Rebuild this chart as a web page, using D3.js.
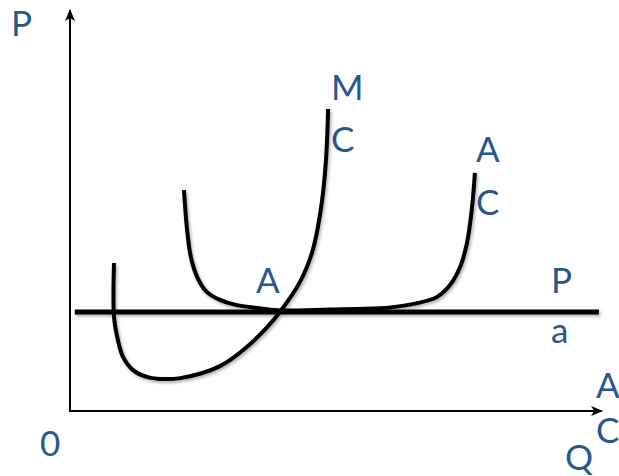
<!DOCTYPE html>
<html>
<head>
<meta charset="utf-8">
<script src="https://cdn.jsdelivr.net/npm/d3@7"></script>
<style>
  html,body{margin:0;padding:0;background:#fff;}
  svg{display:block;}
  .lbl{font-family:Lato,"Open Sans",sans-serif;font-size:35px;fill:#2a5590;}
</style>
</head>
<body>
<svg id="chart" width="619" height="476"></svg>
<script>
// marginal cost curve (Q, P)
var mcQ=[8.3,8.3,8.9,10.0,11.9,14.5,17.0,20.8,28.3,33.4,37.2,39.6,43.4,45.8,47.5,48.3,48.7];
var mcP=[36.9,23.4,18.5,13.5,10.2,8.5,8.0,8.2,11.2,16.0,20.9,24.7,32.2,40.1,51.9,62.6,75.3];
// average cost curve
var acQ=[21.5,22.1,22.8,24.0,25.8,28.3,31.5,35.3,39.1,49.1,58.5,60.9,65.5,69.2,71.7,73.6,74.9,75.8,76.4];
var acP=[55.1,45.1,38.4,33.4,29.7,27.7,26.4,25.7,25.1,25.3,25.6,25.9,26.9,28.4,31.4,35.9,41.9,50.1,59.4];
// price line P = AR
var priceQ=[0.9,99.8];
var priceP=[24.7,24.7];

var svg=d3.select("#chart");
var x=d3.scaleLinear().domain([0,100]).range([70,600]);
var y=d3.scaleLinear().domain([0,100]).range([411,10]);

var defs=svg.append("defs");
defs.append("filter").attr("id","shadow")
	.attr("x","-10%").attr("y","-10%").attr("width","130%").attr("height","130%")
	.append("feDropShadow")
	.attr("dx",1.5).attr("dy",2).attr("stdDeviation",1.5)
	.attr("flood-color","#000").attr("flood-opacity",0.3);

function arrow(id,orient){
	defs.append("marker").attr("id",id)
		.attr("viewBox","0 0 12 10").attr("refX",11).attr("refY",5)
		.attr("markerWidth",12).attr("markerHeight",10)
		.attr("markerUnits","userSpaceOnUse")
		.attr("orient",orient)
		.append("path").attr("d","M0,0 L12,5 L0,10 L3,5 Z").attr("fill","#000");
}
arrow("arr","auto");

// axes
svg.append("line")
	.attr("x1",x(0)).attr("y1",y(0)).attr("x2",x(0)).attr("y2",y(100))
	.attr("stroke","#000").attr("stroke-width",2).attr("marker-end","url(#arr)");
svg.append("line")
	.attr("x1",x(0)-1).attr("y1",y(0)).attr("x2",x(100.4)).attr("y2",y(0))
	.attr("stroke","#000").attr("stroke-width",2).attr("marker-end","url(#arr)");

var line=d3.line()
	.x(function(d){return x(d[0]);})
	.y(function(d){return y(d[1]);})
	.curve(d3.curveCatmullRom.alpha(0.5));

var curves=svg.append("g").attr("filter","url(#shadow)");
curves.append("path")
	.datum(d3.zip(priceQ,priceP))
	.attr("d",d3.line().x(function(d){return x(d[0]);}).y(function(d){return y(d[1]);}))
	.attr("fill","none").attr("stroke","#000").attr("stroke-width",5);
curves.append("path")
	.datum(d3.zip(mcQ,mcP))
	.attr("d",line)
	.attr("fill","none").attr("stroke","#000").attr("stroke-width",4);
curves.append("path")
	.datum(d3.zip(acQ,acP))
	.attr("d",line)
	.attr("fill","none").attr("stroke","#000").attr("stroke-width",4);

// labels
var labels=[
	["P",11,36],["M",331,100],["C",331,152],["A",476,162],["C",476,215],
	["A",256,293],["P",551,293],["a",551,343],["A",596,398],["C",596,443],
	["Q",565,470],["0",40,456]
];
svg.selectAll("text.lbl").data(labels).enter().append("text")
	.attr("class","lbl")
	.attr("x",function(d){return d[1];})
	.attr("y",function(d){return d[2];})
	.text(function(d){return d[0];});
</script>
</body>
</html>
